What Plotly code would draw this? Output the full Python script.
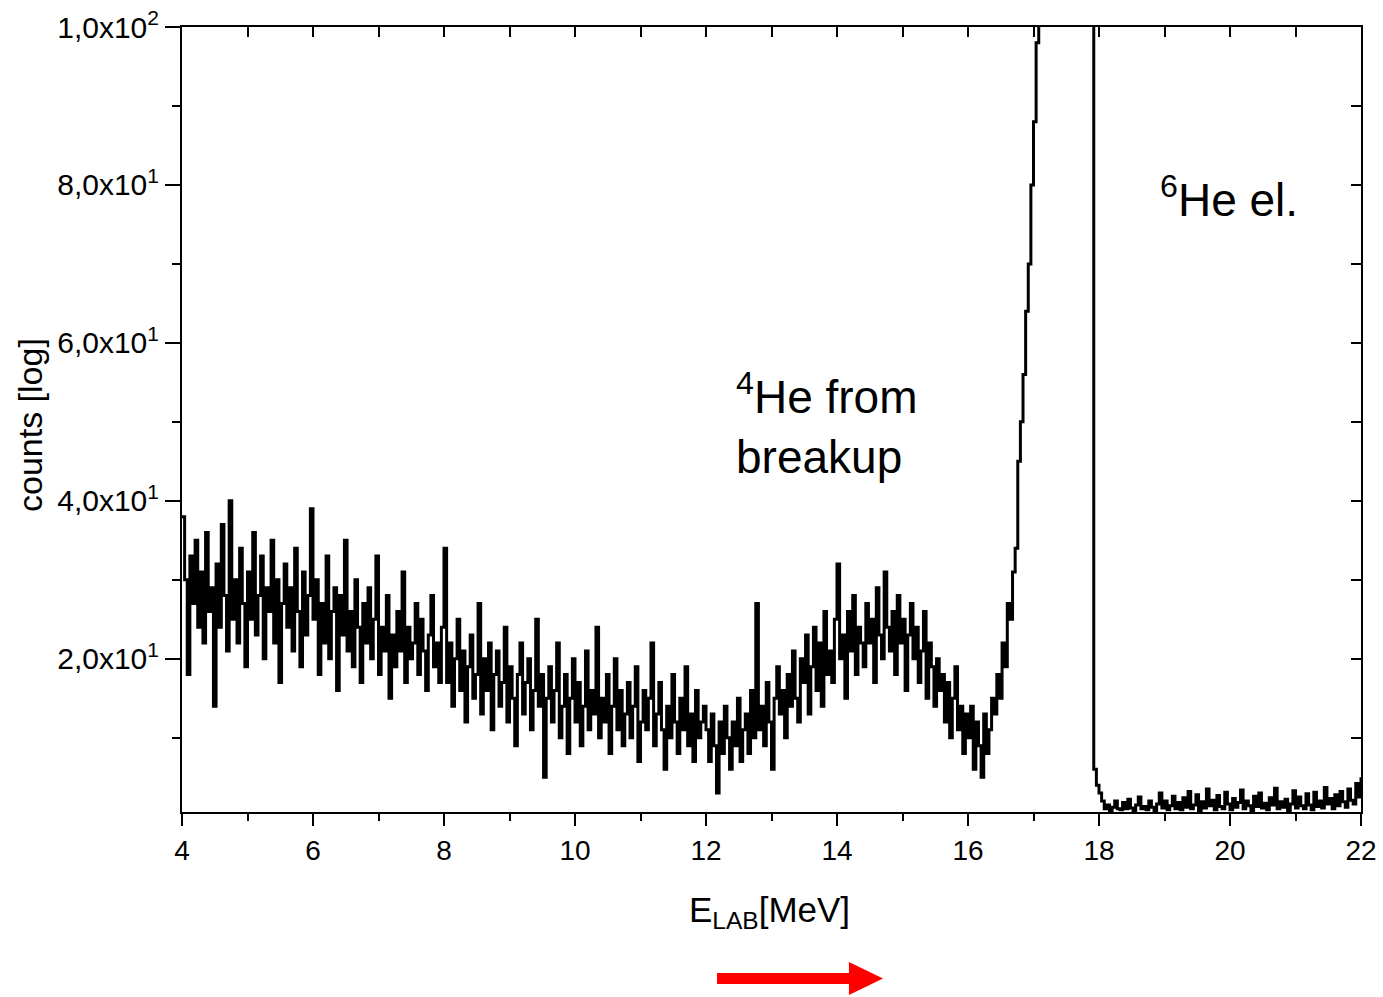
import plotly.graph_objects as go

# ---------------- data ----------------
E_START = 4.0      # MeV, first channel
E_STEP = 0.04      # MeV per channel

counts_4_8 = [
    38, 30, 18, 33, 27, 35, 24, 31, 22, 36,
    26, 29, 14, 32, 24, 37, 28, 21, 40, 25,
    30, 22, 34, 27, 19, 31, 25, 36, 23, 28,
    33, 20, 29, 26, 35, 22, 30, 17, 27, 32,
    24, 29, 21, 34, 26, 19, 31, 23, 28, 39,
    25, 30, 18, 27, 22, 33, 20, 26, 29, 16,
    28, 23, 35, 21, 26, 19, 30, 24, 17, 27,
    22, 29, 20, 25, 33, 18, 24, 21, 28, 15,
    23, 19, 26, 21, 31, 17, 24, 20, 22, 27,
    18, 25, 21, 16, 23, 28, 19, 22, 17, 24,
]
counts_8_12 = [
    34, 17, 22, 14, 20, 25, 16, 21, 12, 19,
    23, 15, 18, 27, 13, 20, 16, 22, 11, 18,
    21, 14, 17, 24, 12, 19, 15, 9, 18, 22,
    13, 17, 20, 11, 16, 25, 14, 18, 5, 15,
    19, 12, 16, 22, 10, 14, 18, 8, 15, 20,
    12, 17, 9, 14, 21, 11, 16, 13, 24, 10,
    15, 12, 18, 8, 14, 20, 11, 16, 9, 13,
    17, 10, 14, 19, 7, 12, 16, 11, 15, 22,
    9, 13, 17, 11, 6, 14, 10, 18, 12, 8,
    15, 11, 19, 9, 13, 7, 16, 10, 12, 14,
]
counts_12_16 = [
    11, 7, 13, 9, 3, 12, 8, 14, 10, 6,
    12, 9, 15, 7, 11, 13, 8, 16, 10, 27,
    11, 14, 9, 17, 12, 6, 15, 19, 13, 16,
    10, 18, 14, 21, 15, 12, 20, 17, 23, 13,
    19, 24, 16, 22, 14, 26, 18, 21, 17, 25,
    32, 20, 23, 15, 26, 21, 28, 18, 24, 22,
    19, 27, 22, 25, 17, 29, 23, 20, 31, 24,
    21, 26, 18, 28, 22, 25, 16, 23, 27, 20,
    24, 17, 21, 26, 15, 22, 19, 14, 20, 16,
    18, 12, 17, 10, 15, 19, 11, 14, 8, 13,
]
counts_16_18 = [
    10, 14, 6, 12, 9, 5, 13, 8, 11, 15,
    13, 18, 15, 22, 19, 27, 25, 31, 34, 45,
    50, 56, 64, 70, 80, 88, 98, 130, 180, 250,
    330, 420, 520, 610, 700, 760, 800, 810, 790, 740,
    660, 560, 450, 340, 240, 160, 140, 120, 6, 4,
]
counts_18_22 = [
    3, 2, 1, 1.5, 0.8, 1.2, 2, 1, 0.9, 1.8,
    1, 2.2, 1.1, 0.8, 1.5, 2.5, 1, 1.3, 0.9, 2,
    1.2, 0.8, 1.6, 3, 1.1, 2, 0.9, 1.4, 2.6, 1,
    1.8, 0.9, 2.4, 1.2, 3.2, 1, 1.5, 2.8, 0.8, 1.9,
    1.1, 3.5, 1.4, 2.1, 0.9, 2.7, 1.3, 1, 3.1, 1.6,
    0.9, 2.3, 1.2, 1.8, 3.4, 1, 2, 1.4, 0.8, 2.6,
    1.3, 3, 1.1, 1.7, 0.9, 2.4, 1.5, 3.6, 1, 1.9,
    1.2, 2.2, 0.8, 1.6, 3.3, 1.1, 2.5, 1.4, 1, 2.9,
    1.5, 0.9, 3.1, 1.3, 2, 1.1, 3.7, 1.6, 2.3, 1,
    2.8, 1.4, 3.2, 1.9, 1.2, 3.5, 2.1, 1.6, 4.2, 2.5,
    5,
]

x_tick_vals = [4, 6, 8, 10, 12, 14, 16, 18, 20, 22]
x_tick_text = ["4", "6", "8", "10", "12", "14", "16", "18", "20", "22"]
x_minor_vals = [5, 7, 9, 11, 13, 15, 17, 19, 21]
y_tick_vals = [20, 40, 60, 80, 100]
y_tick_text = ["2,0x10<sup>1</sup>", "4,0x10<sup>1</sup>", "6,0x10<sup>1</sup>",
               "8,0x10<sup>1</sup>", "1,0x10<sup>2</sup>"]
y_minor_vals = [10, 30, 50, 70, 90]
X_RANGE = [4, 22]
Y_RANGE = [0.6, 100]

counts = counts_4_8 + counts_8_12 + counts_12_16 + counts_16_18 + counts_18_22
energy = [round(E_START + E_STEP * i, 2) for i in range(len(counts))]

FONT = "Arial, Liberation Sans, Helvetica, sans-serif"

fig = go.Figure()
fig.add_trace(go.Scatter(
    x=energy, y=counts, mode="lines",
    line=dict(color="black", width=3, shape="hv"),
    showlegend=False, hoverinfo="skip",
))
# invisible trace so the mirrored (top/right) tick axes are drawn
fig.add_trace(go.Scatter(x=[], y=[], xaxis="x2", yaxis="y2", showlegend=False))

fig.update_layout(
    width=1383, height=997,
    margin=dict(l=182, r=22, t=27, b=185),
    paper_bgcolor="white", plot_bgcolor="white",
    font=dict(family=FONT, color="black"),
    xaxis=dict(
        range=X_RANGE, tickvals=x_tick_vals, ticktext=x_tick_text,
        ticks="outside", ticklen=12, tickwidth=2, tickcolor="black",
        minor=dict(tickvals=x_minor_vals, ticks="outside", ticklen=7,
                   tickwidth=2, tickcolor="black", showgrid=False),
        showline=True, linewidth=2, linecolor="black", mirror=True,
        showgrid=False, zeroline=False, automargin=False,
        tickfont=dict(size=28, family=FONT, color="black"),
    ),
    yaxis=dict(
        range=Y_RANGE, tickvals=y_tick_vals, ticktext=y_tick_text,
        ticks="outside", ticklen=15, tickwidth=2, tickcolor="black",
        minor=dict(tickvals=y_minor_vals, ticks="outside", ticklen=8,
                   tickwidth=2, tickcolor="black", showgrid=False),
        showline=True, linewidth=2, linecolor="black", mirror=True,
        showgrid=False, zeroline=False, automargin=False,
        tickfont=dict(size=30, family=FONT, color="black"),
    ),
    xaxis2=dict(
        overlaying="x", side="top", anchor="y", range=X_RANGE,
        tickvals=x_tick_vals + x_minor_vals, ticks="inside", ticklen=10,
        tickwidth=2, tickcolor="black", showticklabels=False,
        showgrid=False, zeroline=False, showline=False, automargin=False,
    ),
    yaxis2=dict(
        overlaying="y", side="right", anchor="x", range=Y_RANGE,
        tickvals=y_tick_vals + y_minor_vals, ticks="inside", ticklen=10,
        tickwidth=2, tickcolor="black", showticklabels=False,
        showgrid=False, zeroline=False, showline=False, automargin=False,
    ),
    annotations=[
        dict(text="E<sub>LAB</sub>[MeV]", xref="paper", yref="paper",
             x=0.4985, y=-0.1274, xanchor="center", yanchor="middle",
             showarrow=False, font=dict(size=35, family=FONT, color="black")),
        dict(text="counts [log]", xref="paper", yref="paper",
             x=-0.1289, y=0.493, xanchor="center", yanchor="middle",
             textangle=-90, showarrow=False,
             font=dict(size=34, family=FONT, color="black")),
        dict(text="<sup>4</sup>He from<br>breakup", xref="paper", yref="paper",
             x=0.4685, y=0.494, xanchor="left", yanchor="middle", align="left",
             showarrow=False, font=dict(size=46, family=FONT, color="black")),
        dict(text="<sup>6</sup>He el.", xref="paper", yref="paper",
             x=0.8275, y=0.784, xanchor="left", yanchor="middle", align="left",
             showarrow=False, font=dict(size=46, family=FONT, color="black")),
    ],
    shapes=[
        dict(type="rect", xref="paper", yref="paper",
             x0=0.4538, x1=0.5666, y0=-0.2191, y1=-0.2051,
             fillcolor="#ff0000", line=dict(width=0)),
        dict(type="path", xref="paper", yref="paper",
             path="M 0.5657 -0.1911 L 0.5946 -0.2121 L 0.5657 -0.2331 Z",
             fillcolor="#ff0000", line=dict(width=0)),
    ],
)

fig.write_html("out.html")
